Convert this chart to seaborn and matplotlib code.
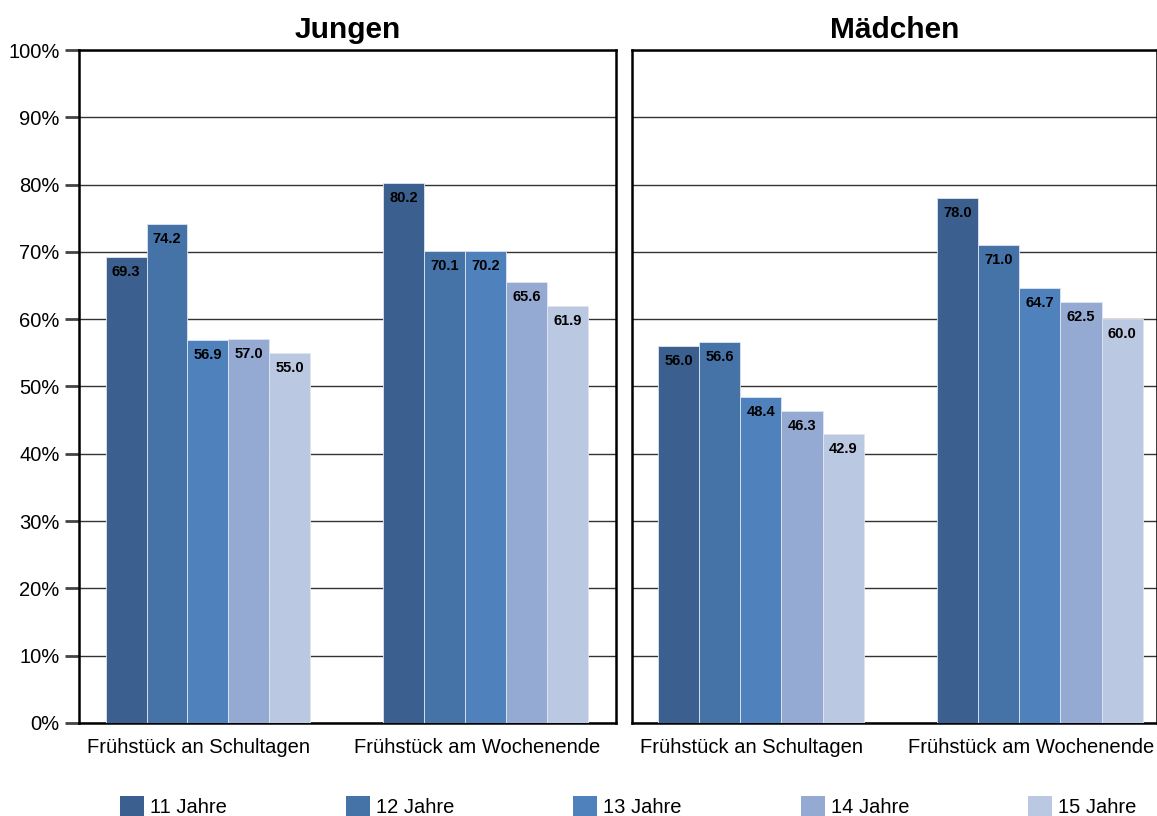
import matplotlib
matplotlib.use('Agg')
import matplotlib.pyplot as plt
import matplotlib.transforms as mtransforms
from matplotlib.patches import Patch
import pandas as pd
import seaborn as sns

kategorien = ['Frühstück an Schultagen', 'Frühstück am Wochenende']
alter = ['11 Jahre', '12 Jahre', '13 Jahre', '14 Jahre', '15 Jahre']
jungen_schule = [69.3, 74.2, 56.9, 57.0, 55.0]
jungen_wochenende = [80.2, 70.1, 70.2, 65.6, 61.9]
maedchen_schule = [56.0, 56.6, 48.4, 46.3, 42.9]
maedchen_wochenende = [78.0, 71.0, 64.7, 62.5, 60.0]
farben = ['#3B5F8E', '#4573A8', '#4F81BD', '#95AAD2', '#BBC8E1']


def tabelle(schule, wochenende):
    zeilen = []
    for k, werte in zip(kategorien, [schule, wochenende]):
        for a, w in zip(alter, werte):
            zeilen.append({'kategorie': k, 'alter': a, 'wert': w})
    return pd.DataFrame(zeilen)


sns.set_style('white')
plt.rcParams['font.family'] = ['Liberation Sans', 'DejaVu Sans']
plt.rcParams['text.color'] = 'black'
plt.rcParams['xtick.color'] = 'black'
plt.rcParams['ytick.color'] = 'black'

fig = plt.figure(figsize=(11.57, 8.16), dpi=100)
ax1 = fig.add_axes([0.0683, 0.114, 0.4641, 0.8247])
ax2 = fig.add_axes([0.5462, 0.114, 0.4536, 0.8247], sharey=ax1)

panels = [(ax1, 'Jungen', tabelle(jungen_schule, jungen_wochenende), (-0.464, 1.468)),
          (ax2, 'Mädchen', tabelle(maedchen_schule, maedchen_wochenende), (-0.462, 1.419))]

# Beschriftungen der Kategorien etwas links von der Balkengruppe
verschiebung = mtransforms.ScaledTranslation(-0.09, 0, fig.dpi_scale_trans)

for ax, titel, df, xlim in panels:
    sns.barplot(data=df, x='kategorie', y='wert', hue='alter', order=kategorien,
                hue_order=alter, palette=farben, saturation=1, width=0.737,
                ax=ax, legend=False, linewidth=0.6, edgecolor='#dfe6f0', zorder=3)
    ax.set_ylim(0, 100)
    ax.set_xlim(*xlim)
    ax.set_yticks(range(0, 101, 10))
    ax.grid(axis='y', color='#333333', linewidth=1, zorder=0)
    ax.set_axisbelow(True)
    for s in ax.spines.values():
        s.set_visible(True)
        s.set_color('black')
        s.set_linewidth(1.8)
    ax.set_xlabel('')
    ax.set_ylabel('')
    ax.set_title(titel, fontsize=21.5, fontweight='bold', pad=9, color='black')
    ax.tick_params(axis='x', length=0, labelsize=14.5, pad=11, labelcolor='black')
    for lbl in ax.get_xticklabels():
        lbl.set_transform(lbl.get_transform() + verschiebung)
    for c in ax.containers:
        for p in c.patches:
            h = p.get_height()
            ax.text(p.get_x() + p.get_width() / 2, h - 1.2, f'{h:.1f}',
                    ha='center', va='top', fontsize=10.5, fontweight='bold',
                    color='black', zorder=4)

ax1.set_yticklabels([f'{t}%' for t in range(0, 101, 10)])
ax1.tick_params(axis='y', length=10, width=2, labelsize=14.5, pad=4, left=True,
                color='#444444', labelcolor='black')
ax2.tick_params(axis='y', left=False, labelleft=False)

handles = [Patch(facecolor=f, edgecolor='none') for f in farben]
fig.legend(handles, alter, loc='lower center', bbox_to_anchor=(0.543, -0.024),
           ncol=5, frameon=False, fontsize=14.5, handlelength=1.2, handleheight=1.2,
           handletextpad=0.3, columnspacing=5.9)

fig.savefig('out.png', dpi=100)
